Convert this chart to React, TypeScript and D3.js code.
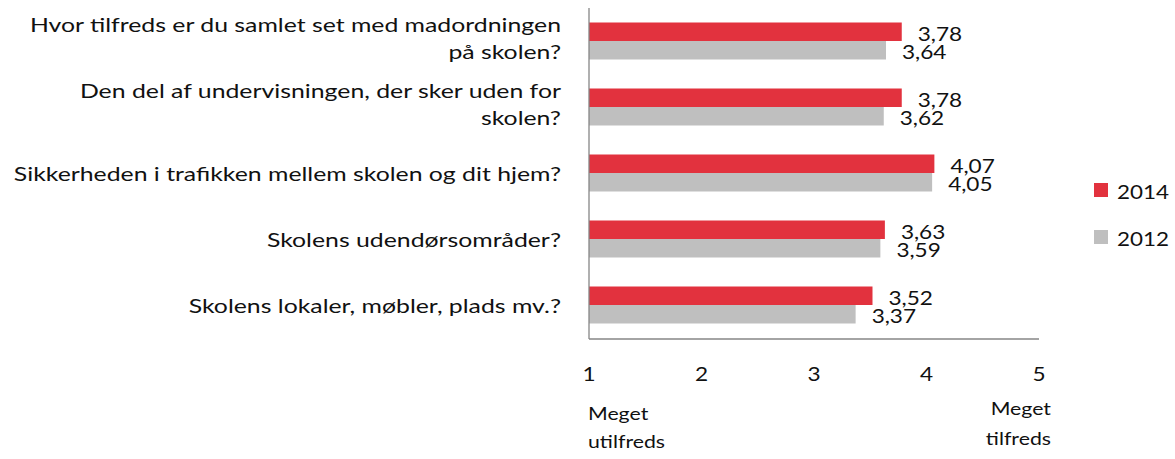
import React, { useRef, useEffect } from "react";
import * as d3 from "d3";

// survey questions, top to bottom
const categories = [
  ["Hvor tilfreds er du samlet set med madordningen", "på skolen?"],
  ["Den del af undervisningen, der sker uden for", "skolen?"],
  ["Sikkerheden i trafikken mellem skolen og dit hjem?"],
  ["Skolens udendørsområder?"],
  ["Skolens lokaler, møbler, plads mv.?"],
];
const values2014 = [3.78, 3.78, 4.07, 3.63, 3.52];
const values2012 = [3.64, 3.62, 4.05, 3.59, 3.37];
const seriesNames = ["2014", "2012"];
const seriesColors = ["#E2323E", "#BFBFBF"];
const tickValues = [1, 2, 3, 4, 5];

const W = 1175;
const H = 459;
const FONT = "Lato, 'Open Sans', sans-serif";

export default function App() {
  const svgRef = useRef<SVGSVGElement>(null);

  useEffect(() => {
    const svg = d3.select(svgRef.current);
    svg.selectAll("*").remove();

    const x = d3.scaleLinear().domain([1, 5]).range([589, 1039]);
    const y = d3
      .scaleBand<number>()
      .domain(d3.range(categories.length))
      .range([8, 338]);
    const barH = 18.5;
    const fmt = (v: number) => d3.format(".2f")(v).replace(".", ",");

    const g = svg.append("g").style("font-family", FONT).attr("fill", "#111");

    // bars + value labels, one group per series
    const series = [values2014, values2012];
    series.forEach((vals, si) => {
      const yOff = si === 0 ? -barH : 0;
      g.append("g")
        .selectAll("rect")
        .data(vals)
        .join("rect")
        .attr("x", x(1))
        .attr("y", (_, i) => y(i)! + y.bandwidth() / 2 + yOff)
        .attr("width", (d) => x(d) - x(1))
        .attr("height", barH)
        .attr("fill", seriesColors[si]);

      g.append("g")
        .selectAll("text")
        .data(vals)
        .join("text")
        .attr("data-k", 1.13)
        .attr("x", (d) => x(d) + 16)
        .attr("y", (_, i) => y(i)! + y.bandwidth() / 2 + yOff + barH / 2 + 1)
        .attr("dominant-baseline", "central")
        .attr("font-size", 20)
        .text((d) => fmt(d));
    });

    // axis lines
    g.append("line")
      .attr("x1", x(1))
      .attr("x2", x(1))
      .attr("y1", 8)
      .attr("y2", 339)
      .attr("stroke", "#868686")
      .attr("stroke-width", 1.3);
    g.append("line")
      .attr("x1", x(1))
      .attr("x2", x(5))
      .attr("y1", 339)
      .attr("y2", 339)
      .attr("stroke", "#868686")
      .attr("stroke-width", 1.3);

    // tick labels
    g.append("g")
      .selectAll("text")
      .data(tickValues)
      .join("text")
      .attr("data-k", 1.13)
      .attr("x", (d) => x(d))
      .attr("y", 373)
      .attr("text-anchor", "middle")
      .attr("dominant-baseline", "central")
      .attr("font-size", 20)
      .text((d) => d);

    // scale end notes
    const lo = g.append("text").attr("font-size", 17);
    lo.append("tspan").attr("data-k", 1.25).attr("x", x(1) - 1).attr("y", 420).text("Meget");
    lo.append("tspan").attr("data-k", 1.25).attr("x", x(1) - 1).attr("y", 448).text("utilfreds");
    const hi = g.append("text").attr("font-size", 17).attr("text-anchor", "end");
    hi.append("tspan").attr("data-k", 1.25).attr("x", 1051).attr("y", 415).text("Meget");
    hi.append("tspan").attr("data-k", 1.25).attr("x", 1051).attr("y", 445).text("tilfreds");

    // category labels, right aligned, wrapped like the original
    const lineH = 27;
    categories.forEach((lines, i) => {
      const cy = y(i)! + y.bandwidth() / 2 - (lines.length > 1 ? 4 : 0);
      const t = g
        .append("text")
        .attr("text-anchor", "end")
        .attr("font-size", 20)
        .attr("dominant-baseline", "central");
      lines.forEach((ln, k) => {
        t.append("tspan")
          .attr("data-k", 1.24)
          .attr("x", 561)
          .attr("y", cy + (k - (lines.length - 1) / 2) * lineH)
          .text(ln);
      });
    });

    // legend
    const legend = g
      .append("g")
      .selectAll("g")
      .data(seriesNames)
      .join("g")
      .attr("transform", (_, i) => `translate(1094,${190 + i * 47})`);
    legend
      .append("rect")
      .attr("x", 0)
      .attr("y", -7)
      .attr("width", 14)
      .attr("height", 14)
      .attr("fill", (_, i) => seriesColors[i]);
    legend
      .append("text")
      .attr("data-k", 1.12)
      .attr("x", 23)
      .attr("y", 1)
      .attr("dominant-baseline", "central")
      .attr("font-size", 20)
      .text((d) => d);

    // the original face runs wider than Lato: stretch each text to fit
    svg.selectAll<SVGTextContentElement, unknown>("[data-k]").each(function () {
      const k = +(this.getAttribute("data-k") || 1);
      const len = this.getComputedTextLength();
      d3.select(this)
        .attr("textLength", len * k)
        .attr("lengthAdjust", "spacingAndGlyphs");
    });
  }, []);

  return (
    <svg
      ref={svgRef}
      width={W}
      height={H}
      style={{ position: "absolute", left: 0, top: 0, background: "#fff" }}
    />
  );
}
